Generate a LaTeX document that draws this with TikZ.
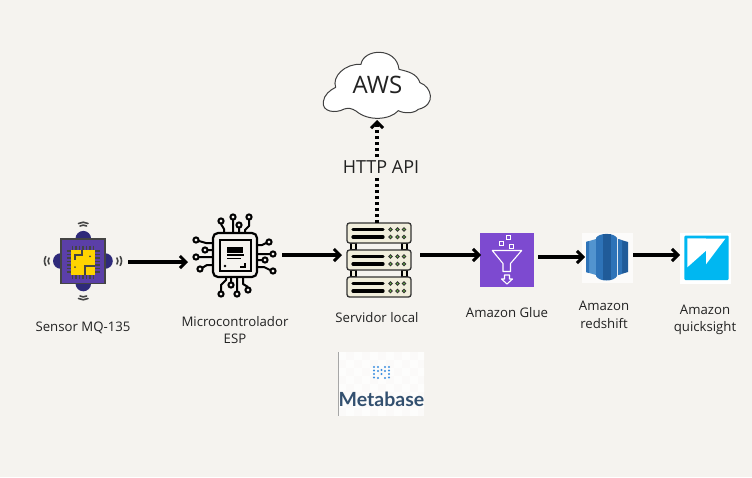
\documentclass[tikz,border=0pt]{standalone}
\usepackage{fontspec}
\setmainfont{Open Sans}
\newfontfamily\latofont{Lato}
\usetikzlibrary{arrows.meta}
\definecolor{bg}{HTML}{F5F3EF}
\definecolor{ink}{HTML}{222222}
\definecolor{sensorpurple}{HTML}{5B3FA8}
\definecolor{sensorblue}{HTML}{2F2A7A}
\definecolor{sensoryellow}{HTML}{FFD400}
\definecolor{sensorgray}{HTML}{444444}
\definecolor{rackcream}{HTML}{F1EEDC}
\definecolor{rackgreen}{HTML}{6CC644}
\definecolor{gluepurple}{HTML}{7D4AD0}
\definecolor{rsl}{HTML}{5294CF}
\definecolor{rsm}{HTML}{2E73B8}
\definecolor{rsd}{HTML}{205B99}
\definecolor{qsblue}{HTML}{00B7F1}
\definecolor{mbtext}{HTML}{33506F}
\definecolor{mbdot}{HTML}{3D8FE0}
\tikzset{
  x=1pt,y=-1pt,
  anchorbox/.style={inner sep=0pt,outer sep=0pt,minimum height=10pt},
  flow/.style={line width=3.2pt,draw=black,-{Straight Barb[length=6pt,width=12pt,line width=3pt]}},
  dotflow/.style={line width=3.2pt,draw=black,dash pattern=on 3pt off 3pt,-{Straight Barb[length=6pt,width=12pt,line width=3pt]}},
  lbl/.style={font=\fontsize{13.2}{17.5}\selectfont,text=ink,align=center,inner sep=0pt},
  pin/.style={line width=2pt,draw=black,line join=round},
  pinend/.style={line width=2pt,draw=black,fill=bg},
  rack/.style={draw=black!80,line width=1.3pt,fill=rackcream,rounded corners=2.5pt},
  rackbar/.style={line width=3.2pt,draw=black,line cap=round},
  led/.style={fill=rackgreen,draw=black!80,line width=.9pt},
  wave/.style={line width=1.6pt,draw=sensorgray,line cap=round},
  tooth/.style={line width=1.3pt,draw=sensorgray},
}
\begin{document}
\begin{tikzpicture}
\useasboundingbox (0,0) rectangle (752,477);
\fill[bg] (0,0) rectangle (752,477);

% anchor nodes for connectors
\node[anchorbox,minimum width=90pt] (sensor) at (83,262) {};
\node[anchorbox,minimum width=94pt] (chip) at (235,255) {};
\node[anchorbox,minimum width=78pt] (server) at (381,255) {};
\node[anchorbox,minimum width=57pt] (glue) at (509.5,257) {};
\node[anchorbox,minimum width=48pt] (redshift) at (609,255) {};
\node[anchorbox,minimum width=50pt] (quick) at (705,255) {};
\coordinate (rackTop) at (377,223);
\coordinate (cloudBottom) at (377,120);

% --- sensor icon
\fill[sensorblue] (83.3,238.7) circle (7.8) (83.3,283.5) circle (7.8) (60.8,261) circle (7.8) (105,261) circle (7.8);
\draw[sensorgray,line width=1.7pt,fill=sensorpurple] (60.8,238.7) rectangle (105,283.5);
\foreach \i in {0,...,6}{
  \draw[tooth] ({72.5+\i*3.5},245.5) -- ++(0,33);
  \draw[tooth] (66.5,{251+\i*3.5}) -- ++(33,0);
}
\fill[sensoryellow] (71,249.7) rectangle (95,274.7);
\draw[sensorgray,line width=1.7pt] (81.7,250) -- (81.7,255) -- (75,255) -- (75,260)
  (95,266.3) -- (85,266.3) -- (85,274.5);
\fill[sensorgray] (75,267) circle (1) (90,256.3) circle (1);
\draw[wave] (80,226) .. controls (82,224.8) and (84.6,224.8) .. (86.6,226);
\draw[wave] (78.5,223.5) .. controls (81.5,221.8) and (85,221.8) .. (88,223.5);
\draw[wave] (80,296) .. controls (82,297.2) and (84.6,297.2) .. (86.6,296);
\draw[wave] (78.5,298.5) .. controls (81.5,300.2) and (85,300.2) .. (88,298.5);
\draw[wave] (49,258) .. controls (47.8,260) and (47.8,262) .. (49,264);
\draw[wave] (45.8,256.5) .. controls (44,259.5) and (44,262.5) .. (45.8,265.5);
\draw[wave] (117,258) .. controls (118.2,260) and (118.2,262) .. (117,264);
\draw[wave] (120.2,256.5) .. controls (122,259.5) and (122,262.5) .. (120.2,265.5);

% --- microcontroller icon
\draw[pin] (221,224) -- (224,229) -- (224,233) (233,220) -- (233,233) (239,228) -- (239,233) (249,220) -- (249,226) -- (245,230) -- (245,233);
\draw[pin] (199,241) -- (206,243) -- (213,243) (205,250) -- (213,250) (199,257) -- (213,257) (202,268) -- (207,265) -- (213,265);
\draw[pin] (266,243) -- (262,245) -- (257,245) (270,254) -- (257,254) (262,260) -- (257,260) (270,270) -- (264,267) -- (257,267);
\draw[pin] (221,291) -- (221,285) -- (226,280) -- (226,277) (231,282) -- (231,277) (237,291) -- (237,277) (248,287) -- (243,284) -- (243,277);
\foreach \p in {(221,221),(233,217),(239,225),(249,217),(196,240),(205,250),(196,257),(200,269),(269,242),(273,254),(265,260),(273,271),(221,294),(231,285),(237,294),(248,290)}
  \draw[pinend] \p circle (2.6);
\draw[line width=2.2pt,fill=bg,rounded corners=5pt] (213,233) rectangle (257,277);
\draw[line width=2.2pt,fill=bg] (220,240) rectangle (251,271);
\fill[black] (227,247) rectangle (243,252.5);
\draw[line width=1.2pt] (227,255) -- (244,255) (227,258.5) -- (241,258.5);
\draw[line width=1.2pt] (245,263) -- (245,267) -- (240,267);
\fill[black] (225,266) circle (1.4);

% --- server rack
\draw[line width=1.2pt,fill=rackcream] (351,243) rectangle (356,250) (402,243) rectangle (407,250)
  (351,270) rectangle (356,277) (402,270) rectangle (407,277);
\foreach \y in {223,250,277}{
  \draw[rack] (347,\y) rectangle (411,\y+20);
  \foreach \d in {6.5,14}{
    \draw[rackbar] (353,\y+\d) -- (383,\y+\d);
    \foreach \x in {390.5,397.5,404}
      \draw[led] (\x,\y+\d) circle (1.7);
  }
}

% --- metabase logo
\begin{scope}
  \clip (338,352) rectangle (424,416);
  \fill[white!60!bg] (338,352) rectangle (424,416);
  \foreach \i in {0,...,10}\foreach \j in {0,...,7}{
    \pgfmathtruncatemacro{\k}{mod(\i+\j,2)}
    \ifnum\k=0 \fill[white!80!bg] ({338+\i*8},{352+\j*8}) rectangle ++(8,8);\fi
  }
\end{scope}
\draw[black!35,line width=.8pt] (338,352) -- (338,416);
\foreach \p in {(374,367),(374,370.5),(374,374),(374,377.5),(389,367),(389,370.5),(389,374),(389,377.5),(378,367),(385,367),(378,371),(385,371),(381.5,374),(378,378),(385,378),(381.5,370)}
  \fill[mbdot] \p circle (1.1);
\node[inner sep=0pt,text=mbtext,font=\latofont\bfseries\fontsize{19.5}{24}\selectfont] (metabase) at (381.5,399) {Metabase};

% --- glue icon
\fill[gluepurple] (480,233) rectangle (534,287);
\draw[white,line width=1.1pt,line join=round] (492.3,250.5) -- (521.7,250.5) -- (510.5,263.5) -- (510.5,271.5) -- (503,271.5) -- (503,263.5) -- cycle;
\draw[white,line width=1.1pt,line join=round] (504.5,275) -- (509.5,275) -- (509.5,279) -- (512.5,279) -- (507,284) -- (501.5,279) -- (504.5,279) -- cycle;
\draw[white,line width=1pt] (499.5,241.5) rectangle ++(4,4) (506.5,235.5) rectangle ++(4,4) (509,244.5) rectangle ++(4,4);

% --- redshift icon
\fill[white!70!bg] (582,233) rectangle (633,283);
\fill[rsl] (586,242) -- (596,239) -- (596,275) -- (586,272) -- cycle;
\fill[rsm] (586,242) -- (589,241) -- (589,273) -- (586,272) -- cycle;
\fill[rsd] (618,239) -- (628,242) -- (628,272) -- (618,275) -- cycle;
\fill[rsm] (618,239) -- (622,240.2) -- (622,273.8) -- (618,275) -- cycle;
\fill[rsm] (596,238) .. controls (599,232.5) and (614,232.5) .. (617,238) -- (617,276) .. controls (614,282) and (599,282) .. (596,276) -- cycle;
\fill[rsd] (603,234) -- (611,234) -- (611,280) -- (603,280) -- cycle;

% --- quicksight icon
\fill[white] (680,233) rectangle (731,284);
\fill[qsblue,rounded corners=1pt] (684.3,235.7) rectangle (728.7,280);
\fill[white] (687.3,238.3) -- (725.3,238.7) -- (706,264.3) -- (706,250.7) -- (687.3,267.3) -- cycle;

% --- cloud
\begin{scope}[shift={(300,40)},x=.3333pt,y=-.3333pt]
  \draw[fill=white,draw=black!75,line width=1pt,line join=round]
    (70,185) .. controls (72,165) and (90,150) .. (107,142)
    .. controls (95,110) and (135,70) .. (183,73)
    .. controls (190,25) and (290,20) .. (297,88)
    .. controls (325,95) and (350,100) .. (360,128)
    .. controls (395,140) and (410,195) .. (355,208)
    .. controls (340,222) and (310,220) .. (295,212)
    .. controls (270,240) and (205,245) .. (168,213)
    .. controls (155,205) and (145,203) .. (133,207)
    .. controls (105,222) and (65,215) .. (70,185) -- cycle;
\end{scope}
\node[inner sep=0pt,text=ink,font=\fontsize{24}{28}\selectfont] (aws) at (377.5,85) {AWS};

% --- connectors
\draw[dotflow] (rackTop) -- (cloudBottom);
\node[inner sep=2pt,fill=bg,text=ink,font=\fontsize{18}{22}\selectfont] (http) at (381,167) {HTTP API};
\draw[flow] (sensor.east) -- (sensor.east -| chip.west);
\draw[flow] (chip.east) -- (server.west);
\draw[flow] (server.east) -- (server.east -| glue.west);
\draw[flow] (glue.east) -- (glue.east -| redshift.west);
\draw[flow] (redshift.east) -- (quick.west);

% --- labels
\node[lbl] (l1) at (83,328) {Sensor MQ-135};
\node[lbl] (l2) at (235,330) {Microcontrolador\\ESP};
\node[lbl] (l3) at (377,318) {Servidor local};
\node[lbl] (l4) at (507,313) {Amazon Glue};
\node[lbl] (l5) at (604,315) {Amazon\\redshift};
\node[lbl] (l6) at (705,320) {Amazon\\quicksight};
\end{tikzpicture}
\end{document}
